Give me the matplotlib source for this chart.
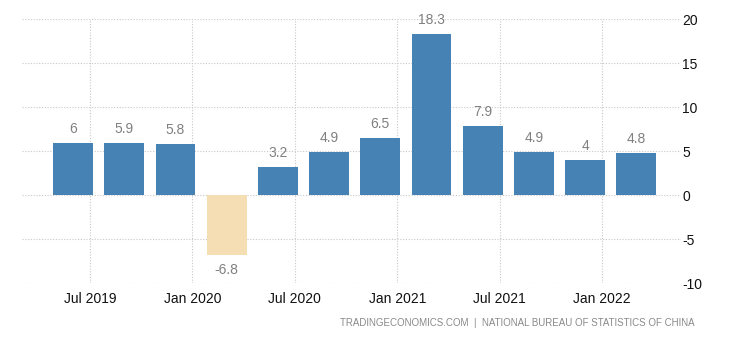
import numpy as np
import matplotlib
matplotlib.use("Agg")
import matplotlib.pyplot as plt

# Quarterly GDP growth, Q2 2019 .. Q1 2022
values = [6, 5.9, 5.8, -6.8, 3.2, 4.9, 6.5, 18.3, 7.9, 4.9, 4, 4.8]
tick_labels = ['Jul 2019', 'Jan 2020', 'Jul 2020', 'Jan 2021', 'Jul 2021', 'Jan 2022']
y_ticks = [-10, -5, 0, 5, 10, 15, 20]

plt.rcParams['font.family'] = ['Liberation Sans', 'DejaVu Sans']
plt.rcParams['axes.unicode_minus'] = False

fig = plt.figure(figsize=(7.3, 3.4), dpi=100)
ax = fig.add_axes([0.030, 0.167, 0.903, 0.776])

x = np.arange(len(values))
colors = ['#4682b4' if v >= 0 else '#f5deb3' for v in values]
ax.bar(x, values, width=0.78, color=colors, zorder=2)

for xi, v in zip(x, values):
    if v >= 0:
        ax.annotate(f'{v:g}', (xi, v), xytext=(0, 5), textcoords='offset points',
                    ha='center', va='bottom', fontsize=10, color='#808080')
    else:
        ax.annotate(f'{v:g}', (xi, v), xytext=(0, -6), textcoords='offset points',
                    ha='center', va='top', fontsize=10, color='#808080')

ax.set_xlim(-1.0, 11.875)
ax.set_ylim(-10, 20)
ax.set_xticks(np.arange(0, len(values), 2) + 0.33)
ax.set_xticklabels(tick_labels)
ax.set_yticks(y_ticks)
ax.yaxis.tick_right()

ax.grid(True, color='#c8c8c8', linestyle=(0, (1, 1.5)), linewidth=0.8, zorder=0)
for s in ax.spines.values():
    s.set_visible(False)
ax.tick_params(axis='both', length=0, labelsize=10, colors='#111111')
ax.tick_params(axis='y', pad=1)
ax.tick_params(axis='x', pad=6)

fig.text(0.952, 0.035, 'TRADINGECONOMICS.COM  |  NATIONAL BUREAU OF STATISTICS OF CHINA',
         ha='right', va='bottom', fontsize=7, color='#8a8a8a')

fig.savefig('out.png', dpi=100)
